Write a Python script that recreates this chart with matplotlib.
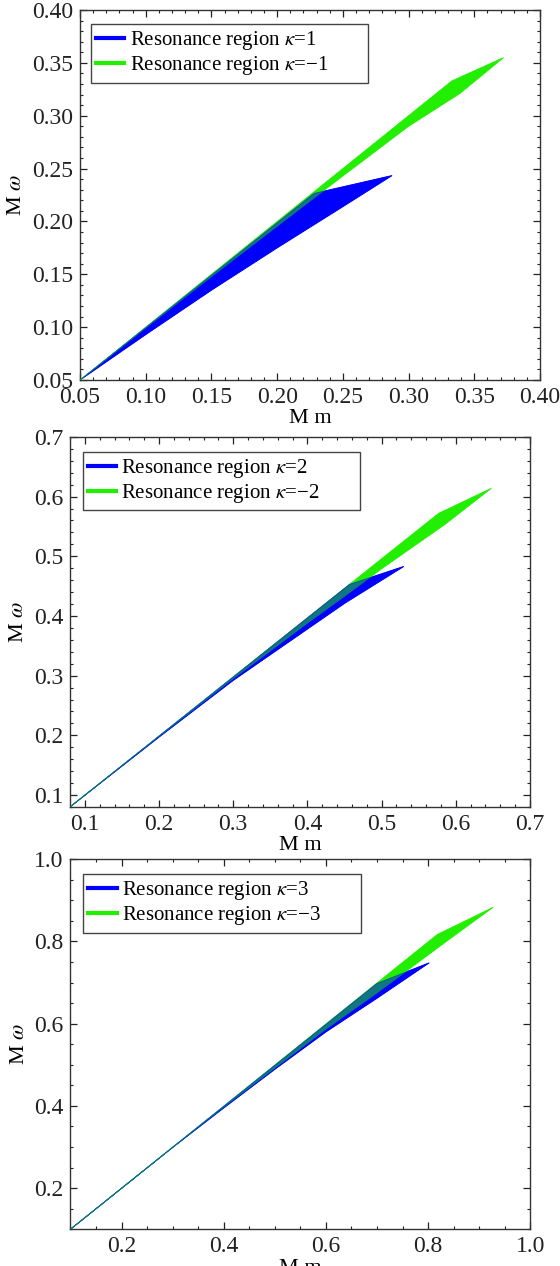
"""
Resonanzbereiche (kappa = +-1, +-2, +-3) als gefuellte Regionen in der (M m, M omega)-Ebene.
Drei Panels untereinander, Stil wie Mathematica-RegionPlot.
"""

import matplotlib
matplotlib.use("Agg")
import matplotlib.pyplot as plt
from matplotlib.lines import Line2D
from matplotlib.ticker import MultipleLocator, FormatStrFormatter

plt.rcParams["font.family"] = ["Liberation Serif", "DejaVu Serif"]
plt.rcParams["mathtext.fontset"] = "stix"

BLUE = "#0000ff"
GREEN = "#22ee00"

# --- Panel 1: kappa = 1 / -1 ---
k1_upper_x = [0.05, 0.228, 0.2874]
k1_upper_y = [0.05, 0.2265, 0.2434]
k1_lower_x = [0.05, 0.10, 0.15, 0.20, 0.25, 0.2874]
k1_lower_y = [0.05, 0.093, 0.135, 0.175, 0.214, 0.2434]
km1_upper_x = [0.05, 0.333, 0.3723]
km1_upper_y = [0.05, 0.333, 0.355]
km1_lower_x = [0.05, 0.10, 0.15, 0.20, 0.25, 0.30, 0.339, 0.3723]
km1_lower_y = [0.05, 0.0993, 0.1478, 0.1955, 0.2430, 0.290, 0.321, 0.355]

# --- Panel 2: kappa = 2 / -2 ---
k2_upper_x = [0.08, 0.457, 0.53]
k2_upper_y = [0.08, 0.453, 0.483]
k2_lower_x = [0.08, 0.20, 0.30, 0.40, 0.45, 0.53]
k2_lower_y = [0.08, 0.197, 0.292, 0.378, 0.421, 0.483]
km2_upper_x = [0.08, 0.577, 0.648]
km2_upper_y = [0.08, 0.572, 0.614]
km2_lower_x = [0.08, 0.20, 0.30, 0.40, 0.45, 0.50, 0.585, 0.648]
km2_lower_y = [0.08, 0.198, 0.295, 0.388, 0.433, 0.479, 0.553, 0.614]

# --- Panel 3: kappa = 3 / -3 ---
k3_upper_x = [0.10, 0.70, 0.802]
k3_upper_y = [0.10, 0.698, 0.748]
k3_lower_x = [0.10, 0.30, 0.40, 0.50, 0.60, 0.70, 0.802]
k3_lower_y = [0.10, 0.299, 0.395, 0.489, 0.580, 0.662, 0.748]
km3_upper_x = [0.10, 0.818, 0.927]
km3_upper_y = [0.10, 0.817, 0.883]
km3_lower_x = [0.10, 0.30, 0.40, 0.50, 0.60, 0.70, 0.75, 0.83, 0.927]
km3_lower_y = [0.10, 0.299, 0.397, 0.492, 0.587, 0.675, 0.721, 0.795, 0.883]

# Achsen-Einstellungen je Panel
limits = [(0.05, 0.40), (0.08, 0.70), (0.10, 1.00)]
major_steps = [0.05, 0.1, 0.2]
minor_steps = [0.01, 0.02, 0.05]
tick_formats = ["%.2f", "%.1f", "%.1f"]
kappas = [1, 2, 3]

# Position der Achsen in Figure-Koordinaten (560 x 1266 px)
axes_rects = [
    [0.1429, 0.6998, 0.8214, 0.2923],
    [0.1250, 0.3626, 0.8214, 0.2923],
    [0.1257, 0.0290, 0.8214, 0.2923],
]
# Legendenrahmen (links, oben, Breite) in Achsen-Koordinaten
legend_boxes = [(0.024, 0.962, 0.603), (0.028, 0.960, 0.603), (0.028, 0.960, 0.603)]


def polygon(upper_x, upper_y, lower_x, lower_y):
    """Oberer Rand vorwaerts, unterer Rand rueckwaerts -> geschlossenes Polygon."""
    return list(upper_x) + list(lower_x[::-1]), list(upper_y) + list(lower_y[::-1])


def draw_panel(ax, pos_region, neg_region, lim, major, minor, fmt, k, lbox):
    bx, by = pos_region
    gx, gy = neg_region
    # blau deckend, dann gruen, dann blau halbtransparent -> Ueberlappung wird petrol
    ax.fill(bx, by, color=BLUE, lw=0.6, zorder=2)
    ax.fill(gx, gy, color=GREEN, lw=0.6, zorder=3)
    ax.fill(bx, by, color=BLUE, alpha=0.5, lw=0.6, zorder=4)

    ax.set_xlim(*lim)
    ax.set_ylim(*lim)
    for axis in (ax.xaxis, ax.yaxis):
        axis.set_major_locator(MultipleLocator(major))
        axis.set_minor_locator(MultipleLocator(minor))
        axis.set_major_formatter(FormatStrFormatter(fmt))
    ax.tick_params(which="both", direction="in", top=True, right=True,
                   labelsize=17, colors="#222222")
    ax.tick_params(which="major", length=5, width=0.9, pad=5)
    ax.tick_params(which="minor", length=2.5, width=0.8)
    for sp in ax.spines.values():
        sp.set_color("#333333")
        sp.set_linewidth(1.0)

    ax.set_xlabel("M m", fontsize=16, labelpad=1)
    ax.set_ylabel("M $\\omega$", fontsize=16, labelpad=4)

    handles = [Line2D([], [], color=BLUE, lw=3), Line2D([], [], color=GREEN, lw=3)]
    labels = [f"Resonance region $\\kappa$={k}", f"Resonance region $\\kappa$=\u2212{k}"]
    left, top, width = lbox
    leg = ax.legend(handles, labels, loc="upper left", mode="expand",
                    bbox_to_anchor=(left, 0.0, width, top),
                    borderaxespad=0, fancybox=False, edgecolor="#444444",
                    framealpha=1, fontsize=15, handlelength=1.35,
                    handletextpad=0.25, borderpad=0.25, labelspacing=0.1)
    leg.get_frame().set_linewidth(1.0)


def main():
    regions = [
        (polygon(k1_upper_x, k1_upper_y, k1_lower_x, k1_lower_y),
         polygon(km1_upper_x, km1_upper_y, km1_lower_x, km1_lower_y)),
        (polygon(k2_upper_x, k2_upper_y, k2_lower_x, k2_lower_y),
         polygon(km2_upper_x, km2_upper_y, km2_lower_x, km2_lower_y)),
        (polygon(k3_upper_x, k3_upper_y, k3_lower_x, k3_lower_y),
         polygon(km3_upper_x, km3_upper_y, km3_lower_x, km3_lower_y)),
    ]

    fig = plt.figure(figsize=(5.6, 12.66), dpi=100)
    for i, (pos, neg) in enumerate(regions):
        ax = fig.add_axes(axes_rects[i])
        draw_panel(ax, pos, neg, limits[i], major_steps[i], minor_steps[i],
                   tick_formats[i], kappas[i], legend_boxes[i])

    fig.savefig("out.png", dpi=100)


if __name__ == "__main__":
    main()
